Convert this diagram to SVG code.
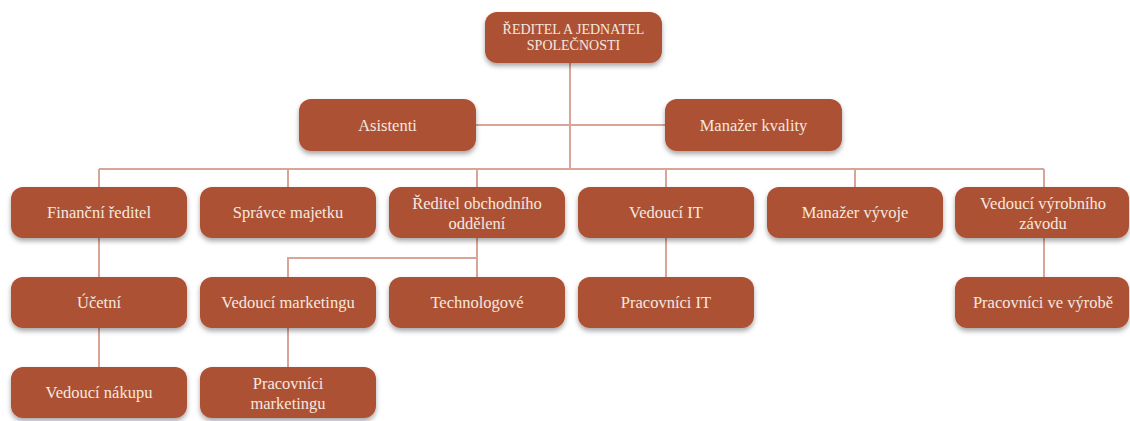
<svg xmlns="http://www.w3.org/2000/svg" width="1130" height="421" viewBox="0 0 1130 421">
<defs>
<filter id="sh" x="-10%" y="-20%" width="120%" height="160%">
<feDropShadow dx="0" dy="3" stdDeviation="2.5" flood-color="#000" flood-opacity="0.35"/>
</filter>
<style>
.box{fill:#AD5136;filter:url(#sh)}
.t{font-family:"Liberation Serif","Times New Roman",serif;font-size:16.5px;fill:#F5E8DF;text-anchor:middle}
.tc{font-family:"Liberation Serif","Times New Roman",serif;font-size:14px;fill:#F5E8DF;text-anchor:middle}
.c{stroke:#D9A596;stroke-width:2;fill:none}
</style>
</defs>
<rect width="1130" height="421" fill="#ffffff"/>
<g id="connectors">
<path class="c" d="M570 63V169"/>
<path class="c" d="M476 125H665"/>
<path class="c" d="M99 169H1044"/>
<path class="c" d="M99 169V187M288 169V187M477 169V187M666 169V187M855 169V187M1044 169V187"/>
<path class="c" d="M99 238V277M99 328V367"/>
<path class="c" d="M477 238V277M477 258H288V277M288 328V367"/>
<path class="c" d="M666 238V277M1044 238V277"/>
</g>
<g id="n-reditel"><rect class="box" x="485" y="12" width="177" height="51" rx="12"/><text class="tc" x="573.5" y="34">ŘEDITEL A JEDNATEL</text><text class="tc" x="573.5" y="50">SPOLEČNOSTI</text></g>
<g id="n-asistenti"><rect class="box" x="299" y="99" width="177" height="52" rx="12"/><text class="t" x="387.5" y="131">Asistenti</text></g>
<g id="n-manazer-kvality"><rect class="box" x="665" y="99" width="177" height="52" rx="12"/><text class="t" x="753.5" y="131">Manažer kvality</text></g>
<g id="n-financni"><rect class="box" x="11" y="187" width="176" height="51" rx="12"/><text class="t" x="99" y="218">Finanční ředitel</text></g>
<g id="n-spravce"><rect class="box" x="200" y="187" width="176" height="51" rx="12"/><text class="t" x="288" y="218">Správce majetku</text></g>
<g id="n-obchodni"><rect class="box" x="389" y="187" width="176" height="51" rx="12"/><text class="t" x="477" y="209">Ředitel obchodního</text><text class="t" x="477" y="229">oddělení</text></g>
<g id="n-vedouci-it"><rect class="box" x="578" y="187" width="176" height="51" rx="12"/><text class="t" x="666" y="218">Vedoucí IT</text></g>
<g id="n-vyvoj"><rect class="box" x="767" y="187" width="176" height="51" rx="12"/><text class="t" x="855" y="218">Manažer vývoje</text></g>
<g id="n-vyrobni"><rect class="box" x="955" y="187" width="174" height="51" rx="12"/><text class="t" x="1043" y="209">Vedoucí výrobního</text><text class="t" x="1043" y="229">závodu</text></g>
<g id="n-ucetni"><rect class="box" x="11" y="277" width="176" height="51" rx="12"/><text class="t" x="99" y="308">Účetní</text></g>
<g id="n-marketing"><rect class="box" x="200" y="277" width="176" height="51" rx="12"/><text class="t" x="288" y="308">Vedoucí marketingu</text></g>
<g id="n-technologove"><rect class="box" x="389" y="277" width="176" height="51" rx="12"/><text class="t" x="477" y="308">Technologové</text></g>
<g id="n-pracovnici-it"><rect class="box" x="578" y="277" width="176" height="51" rx="12"/><text class="t" x="666" y="308">Pracovníci IT</text></g>
<g id="n-pracovnici-vyroba"><rect class="box" x="955" y="277" width="174" height="51" rx="12"/><text class="t" x="1043" y="308">Pracovníci ve výrobě</text></g>
<g id="n-nakup"><rect class="box" x="11" y="367" width="176" height="51" rx="12"/><text class="t" x="99" y="398">Vedoucí nákupu</text></g>
<g id="n-pracovnici-marketing"><rect class="box" x="200" y="367" width="176" height="51" rx="12"/><text class="t" x="288" y="389">Pracovníci</text><text class="t" x="288" y="409">marketingu</text></g>
</svg>
